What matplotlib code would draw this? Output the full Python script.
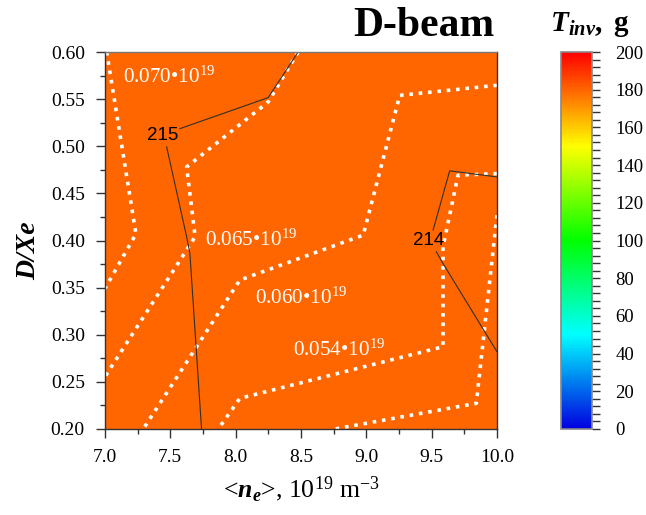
import matplotlib
matplotlib.use("Agg")
import matplotlib.pyplot as plt
import numpy as np
from matplotlib.colors import LinearSegmentedColormap, Normalize
from matplotlib.ticker import MultipleLocator, FormatStrFormatter
import matplotlib.cm as cm

plt.rcParams['font.family'] = ['Liberation Serif', 'DejaVu Serif']
plt.rcParams['mathtext.fontset'] = 'custom'
plt.rcParams['mathtext.rm'] = 'Liberation Serif'
plt.rcParams['mathtext.it'] = 'Liberation Serif:italic'
plt.rcParams['mathtext.bf'] = 'Liberation Serif:bold'
plt.rcParams['mathtext.bfit'] = 'Liberation Serif:italic:bold'

# ---- data: density contours (white dotted), in <n_e> [1e19 m^-3] vs D/Xe
c070_x = [7.013, 7.237, 7.0]
c070_y = [0.600, 0.407, 0.349]
c065_x = [8.478, 8.249, 7.625, 7.690, 7.0]
c065_y = [0.600, 0.547, 0.478, 0.404, 0.2555]
c060_x = [10.0, 9.256, 8.976, 8.032, 7.293]
c060_y = [0.5647, 0.554, 0.4057, 0.358, 0.200]
c054_x = [10.0, 9.702, 9.587, 9.587, 8.032, 7.867]
c054_y = [0.471, 0.4693, 0.3933, 0.2873, 0.2325, 0.200]
c054b_x = [10.0, 9.842, 8.759]
c054b_y = [0.4269, 0.2272, 0.200]

# T_inv contours (black thin)
t215a_x = [8.478, 8.249, 7.574]
t215a_y = [0.600, 0.5516, 0.5187]
t215b_x = [7.472, 7.625, 7.650, 7.739]
t215b_y = [0.4993, 0.4039, 0.3862, 0.200]
t214a_x = [10.0, 9.638, 9.511]
t214a_y = [0.4675, 0.4739, 0.411]
t214b_x = [9.536, 9.587, 10.0]
t214b_y = [0.388, 0.3756, 0.282]

dens_labels = ['0.070', '0.065', '0.060', '0.054']
dens_label_x = [7.14, 7.765, 8.147, 8.44]
dens_label_y = [0.5735, 0.400, 0.3385, 0.2837]
t_labels = ['215', '214']
t_label_x = [7.324, 9.358]
t_label_y = [0.5117, 0.400]

x_ticks = [7.0, 7.5, 8.0, 8.5, 9.0, 9.5, 10.0]
y_ticks = [0.20, 0.25, 0.30, 0.35, 0.40, 0.45, 0.50, 0.55, 0.60]
cb_ticks = [0, 20, 40, 60, 80, 100, 120, 140, 160, 180, 200]

fig = plt.figure(figsize=(6.46, 5.15), dpi=100)
ax = fig.add_axes([0.1625, 0.167, 0.6068, 0.732])
cax = fig.add_axes([0.8684, 0.167, 0.048, 0.732])

cmap = LinearSegmentedColormap.from_list(
    'tinv', [(0.0, '#0000e0'), (0.25, '#00ffff'), (0.5, '#00ff00'),
             (0.75, '#ffff00'), (1.0, '#ff0000')])
norm = Normalize(0, 200)
ax.set_facecolor('#ff6600')

ax.set_xlim(7.0, 10.0)
ax.set_ylim(0.2, 0.6)

dot_kw = dict(color='white', lw=2.6, linestyle=(0, (1, 1.6)),
              dash_capstyle='butt', solid_joinstyle='miter')
for xs, ys in [(c070_x, c070_y), (c065_x, c065_y), (c060_x, c060_y),
               (c054_x, c054_y), (c054b_x, c054b_y)]:
    ax.plot(xs, ys, **dot_kw)

blk_kw = dict(color='#303030', lw=0.8)
for xs, ys in [(t215a_x, t215a_y), (t215b_x, t215b_y),
               (t214a_x, t214a_y), (t214b_x, t214b_y)]:
    ax.plot(xs, ys, **blk_kw)

for lab, lx, ly in zip(dens_labels, dens_label_x, dens_label_y):
    ax.text(lx, ly, lab + '\u2022' + r'10$^{19}$', color='white',
            fontsize=15.2, ha='left', va='center')
for lab, lx, ly in zip(t_labels, t_label_x, t_label_y):
    ax.text(lx, ly, lab, color='black', fontsize=13.5,
            family='Liberation Sans', ha='left', va='center')

ax.set_xticks(x_ticks)
ax.set_yticks(y_ticks)
ax.xaxis.set_major_formatter(FormatStrFormatter('%.1f'))
ax.yaxis.set_major_formatter(FormatStrFormatter('%.2f'))
ax.xaxis.set_minor_locator(MultipleLocator(0.25))
ax.yaxis.set_minor_locator(MultipleLocator(0.025))
ax.tick_params(which='major', length=6.5, width=1, color='#333333',
               labelsize=14, pad=8, direction='out')
ax.tick_params(which='minor', length=3.5, width=1, color='#333333',
               direction='out')
for s in ax.spines.values():
    s.set_color('#333333')
    s.set_linewidth(1)
ax.spines['top'].set_color('#777777')

ax.set_xlabel(r'<$\mathbfit{n}_{\mathbfit{e}}$>, 10$^{19}$ m$^{-3}$',
              fontsize=18.5, labelpad=6)
ax.set_ylabel('D/Xe', fontsize=20, fontweight='bold', style='italic')
ax.yaxis.set_label_coords(-0.162, 0.472)

fig.text(0.766, 0.93, 'D-beam', fontsize=30, fontweight='bold',
         ha='right', va='baseline')

sm = cm.ScalarMappable(norm=norm, cmap=cmap)
cb = fig.colorbar(sm, cax=cax)
cb.set_ticks(cb_ticks)
cb.ax.yaxis.set_minor_locator(MultipleLocator(4))
cb.ax.tick_params(which='major', length=6, width=1, color='#333333',
                  labelsize=13.5, pad=11)
cb.ax.tick_params(which='minor', length=6, width=1, color='#333333')
cb.outline.set_edgecolor('#888888')
cb.outline.set_linewidth(1.2)
fig.text(0.913, 0.94, r'$\mathbfit{T}_{\mathbfit{inv}}\mathbf{,\ g}$',
         fontsize=21, ha='center', va='baseline')

fig.savefig('out.png', dpi=100)
